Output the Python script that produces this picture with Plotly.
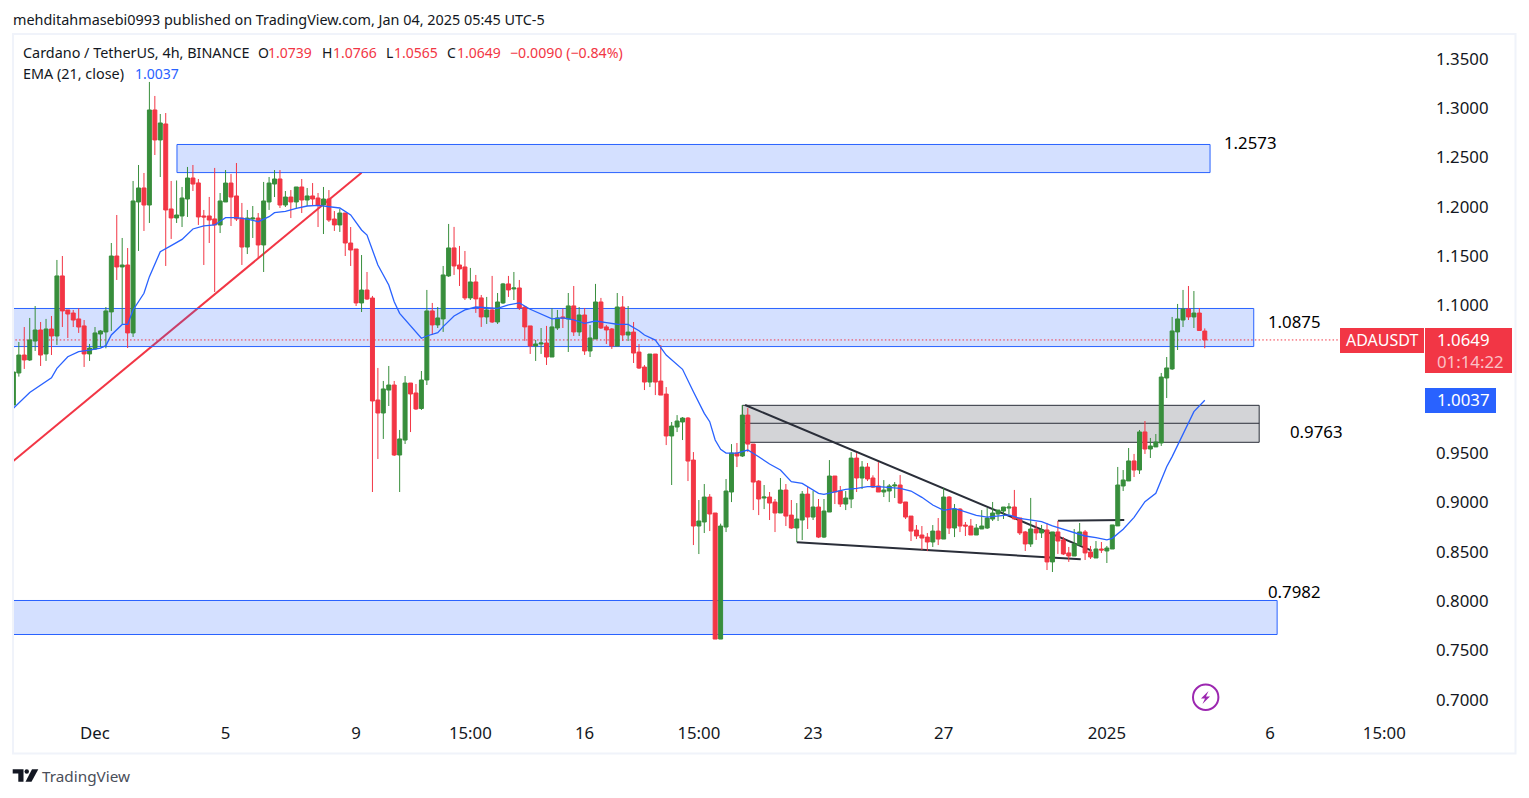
import plotly.graph_objects as go

W, H = 1529, 798
FONT = "Noto Sans"

opens = [0.9983,1.0308,1.0490,1.0440,1.0632,1.0744,1.0501,1.0754,1.0683,1.1292,
1.0947,1.0916,1.0856,1.0785,1.0501,1.0551,1.0703,1.0724,1.0927,1.1494,
1.1383,1.1403,1.0714,1.2042,1.2184,1.2011,1.2975,1.2671,1.2833,1.1971,
1.1880,1.1900,1.2072,1.2285,1.2235,1.1900,1.1900,1.1870,1.1809,1.2042,
1.2234,1.2103,1.1879,1.1585,1.1869,1.1879,1.1606,1.2042,1.2224,1.2275,
1.2011,1.2092,1.2042,1.2194,1.2062,1.2103,1.2082,1.2011,1.2072,1.1869,
1.1809,1.1930,1.1626,1.1565,1.1018,1.1149,1.1068,1.0034,0.9902,1.0135,
1.0186,0.9476,0.9628,1.0206,1.0105,0.9948,1.0237,1.0937,1.0795,1.0856,
1.1292,1.1576,1.1403,1.1383,1.1069,1.1231,1.1069,1.0876,1.0947,1.0825,
1.1018,1.1211,1.1160,1.1170,1.0977,1.0785,1.0582,1.0602,1.0612,1.0470,
1.0764,1.0876,1.0856,1.0988,1.0724,1.0896,1.0531,1.0653,1.1028,1.0775,
1.0754,1.0581,1.0977,1.0693,1.0723,1.0520,1.0368,1.0216,1.0500,1.0226,
1.0094,0.9669,0.9760,0.9811,0.9851,0.9425,0.8756,0.8797,0.9050,0.8888,
0.7610,0.8746,0.9101,0.9496,0.9466,0.9881,0.9587,0.9212,0.9040,0.9050,
0.8999,0.8888,0.9121,0.8867,0.8736,0.8817,0.9080,0.8847,0.8949,0.8644,
0.8898,0.9263,0.9111,0.8979,0.9030,0.9445,0.9243,0.9354,0.9243,0.9162,
0.9101,0.9111,0.9162,0.9172,0.9000,0.8857,0.8715,0.8665,0.8644,0.8594,
0.8705,0.8624,0.9050,0.8736,0.8928,0.8766,0.8756,0.8665,0.8726,0.8736,
0.8827,0.8878,0.8908,0.8938,0.8949,0.8838,0.8696,0.8574,0.8726,0.8686,
0.8716,0.8392,0.8696,0.8615,0.8483,0.8452,0.8564,0.8696,0.8493,0.8432,
0.8523,0.8503,0.8523,0.8757,0.9162,0.9213,0.9416,0.9324,0.9710,0.9537,
0.9558,0.9598,1.0257,1.0349,1.0724,1.0845,1.0957,1.0876,1.0916,1.0739]

highs = [1.0490,1.0622,1.0774,1.0866,1.0987,1.0825,1.0856,1.0886,1.1454,1.1494,
1.0947,1.0947,1.0964,1.0845,1.0602,1.0774,1.0744,1.0977,1.1626,1.1910,
1.1677,1.1575,1.2255,1.2417,1.2336,1.3259,1.3117,1.2934,1.2944,1.2255,
1.2260,1.2194,1.2397,1.2417,1.2275,1.1961,1.2093,1.2387,1.2133,1.2366,
1.2326,1.2437,1.2032,1.1961,1.2001,1.1930,1.2245,1.2295,1.2366,1.2366,
1.2153,1.2163,1.2194,1.2275,1.2184,1.2234,1.2133,1.2194,1.2163,1.1950,
1.1971,1.1930,1.1788,1.1565,1.1504,1.1332,1.1089,1.0359,1.0227,1.0379,
1.0227,0.9730,1.0277,1.0206,1.0196,1.0328,1.1150,1.1018,1.0977,1.1393,
1.1819,1.1789,1.1596,1.1545,1.1373,1.1302,1.1099,1.1079,1.1292,1.1119,
1.1221,1.1292,1.1332,1.1251,1.0988,1.0785,1.0643,1.0764,1.0785,1.0964,
1.0947,1.0961,1.1119,1.1190,1.0977,1.0967,1.0795,1.1211,1.1069,1.0795,
1.0764,1.1119,1.1088,1.0987,1.0825,1.0601,1.0388,1.0500,1.0500,1.0591,
1.0165,0.9811,0.9881,0.9861,0.9861,0.9506,0.9020,0.9182,0.9080,0.8888,
0.8780,0.9233,0.9587,0.9598,0.9983,0.9952,0.9587,0.9222,0.9172,0.9101,
0.9030,0.9243,0.9182,0.9020,0.8989,0.9111,0.9151,0.9111,0.9030,0.9030,
0.9425,0.9263,0.9162,0.9111,0.9506,0.9496,0.9415,0.9395,0.9270,0.9405,
0.9222,0.9182,0.9202,0.9273,0.9000,0.8857,0.8766,0.8756,0.8685,0.8766,
0.8837,0.9141,0.9060,0.8979,0.8938,0.8797,0.8827,0.8776,0.8918,0.8938,
0.9000,0.8918,0.8949,0.8989,0.9122,0.8838,0.8706,0.9041,0.8797,0.8767,
0.8787,0.8696,0.8807,0.8645,0.8544,0.8726,0.8787,0.8716,0.8554,0.8604,
0.8594,0.8554,0.8767,0.9355,0.9324,0.9547,0.9487,0.9730,0.9821,0.9649,
0.9689,1.0308,1.0470,1.0876,1.1008,1.1150,1.1190,1.1139,1.0967,1.0766]

lows = [0.9933,1.0271,1.0349,1.0430,1.0531,1.0379,1.0430,1.0490,1.0592,1.0774,
1.0663,1.0774,1.0714,1.0369,1.0430,1.0541,1.0568,1.0558,1.0734,1.1251,
1.0805,1.0561,1.0673,1.1545,1.1748,1.1829,1.2518,1.2295,1.1393,1.1667,
1.1829,1.1788,1.1890,1.2153,1.1809,1.1403,1.1626,1.1129,1.1727,1.2042,
1.1798,1.1849,1.1403,1.1514,1.1677,1.1474,1.1332,1.1961,1.2092,1.1981,
1.1991,1.1879,1.1981,1.1930,1.2001,1.2011,1.1788,1.1717,1.1839,1.1748,
1.1738,1.1494,1.1393,1.0987,1.0926,1.1048,0.9101,0.9436,0.9639,0.9973,
0.9466,0.9101,0.9588,0.9709,0.9933,0.9933,1.0186,1.0693,1.0764,1.0724,
1.1282,1.1302,1.1190,1.1048,1.1048,1.0917,1.0775,1.0805,1.0815,1.0805,
1.1008,1.1079,1.1048,1.0947,1.0633,1.0501,1.0430,1.0501,1.0389,1.0470,
1.0744,1.0764,1.0521,1.0683,1.0683,1.0491,1.0470,1.0653,1.0754,1.0602,
1.0552,1.0581,1.0632,1.0632,1.0409,1.0348,1.0135,1.0165,1.0084,1.0084,
0.9577,0.9172,0.9709,0.9628,0.9212,0.8563,0.8472,0.8685,0.8705,0.7610,
0.7610,0.8695,0.8999,0.9354,0.9456,0.9506,0.8918,0.8867,0.8928,0.8817,
0.8695,0.8888,0.8756,0.8726,0.8594,0.8614,0.8726,0.8817,0.8634,0.8634,
0.8898,0.8979,0.8949,0.8918,0.8938,0.9101,0.9131,0.9212,0.9141,0.9101,
0.9050,0.8999,0.9040,0.8979,0.8827,0.8604,0.8624,0.8513,0.8502,0.8543,
0.8563,0.8624,0.8675,0.8644,0.8695,0.8655,0.8665,0.8665,0.8726,0.8726,
0.8807,0.8807,0.8827,0.8878,0.8817,0.8665,0.8503,0.8544,0.8615,0.8635,
0.8310,0.8290,0.8473,0.8462,0.8392,0.8452,0.8564,0.8412,0.8422,0.8432,
0.8483,0.8381,0.8523,0.8757,0.9111,0.9213,0.9253,0.9284,0.9487,0.9446,
0.9558,0.9568,1.0054,1.0338,1.0541,1.0774,1.0845,1.0764,1.0739,1.0565]

closes = [1.0318,1.0490,1.0440,1.0643,1.0744,1.0490,1.0754,1.0683,1.1292,1.0937,
1.0906,1.0845,1.0774,1.0501,1.0561,1.0714,1.0734,1.0937,1.1494,1.1383,
1.1403,1.0714,1.2052,1.2184,1.2011,1.2975,1.2671,1.2843,1.1961,1.1880,
1.1910,1.2082,1.2285,1.2224,1.1890,1.1890,1.1859,1.1809,1.2052,1.2234,
1.2092,1.1869,1.1585,1.1879,1.1879,1.1606,1.2052,1.2234,1.2275,1.2011,
1.2092,1.2042,1.2194,1.2062,1.2103,1.2072,1.2011,1.2072,1.1859,1.1809,
1.1930,1.1626,1.1555,1.1018,1.1149,1.1058,1.0024,0.9902,1.0146,1.0186,
0.9476,0.9639,1.0206,1.0095,0.9943,1.0237,1.0937,1.0795,1.0866,1.1302,
1.1576,1.1393,1.1363,1.1069,1.1231,1.1059,1.0876,1.0947,1.0825,1.1028,
1.1211,1.1150,1.1170,1.0967,1.0775,1.0582,1.0602,1.0612,1.0470,1.0775,
1.0866,1.0866,1.0988,1.0724,1.0896,1.0531,1.0663,1.1028,1.0764,1.0744,
1.0582,1.0977,1.0693,1.0723,1.0510,1.0358,1.0216,1.0500,1.0216,1.0084,
0.9669,0.9770,0.9821,0.9851,0.9415,0.8756,0.8807,0.9050,0.8878,0.7610,
0.8756,0.9111,0.9496,0.9466,0.9881,0.9587,0.9202,0.9030,0.9050,0.8989,
0.8888,0.9121,0.8857,0.8736,0.8827,0.9080,0.8847,0.8949,0.8644,0.8908,
0.9263,0.9101,0.8979,0.9040,0.9445,0.9243,0.9354,0.9233,0.9151,0.9101,
0.9121,0.9162,0.9172,0.8989,0.8847,0.8705,0.8655,0.8634,0.8594,0.8705,
0.8624,0.9050,0.8736,0.8928,0.8756,0.8756,0.8665,0.8736,0.8756,0.8837,
0.8888,0.8918,0.8949,0.8949,0.8828,0.8686,0.8574,0.8726,0.8686,0.8716,
0.8392,0.8696,0.8604,0.8473,0.8452,0.8574,0.8696,0.8483,0.8442,0.8523,
0.8513,0.8533,0.8767,0.9172,0.9223,0.9416,0.9324,0.9710,0.9537,0.9568,
0.9608,1.0267,1.0359,1.0734,1.0856,1.0957,1.0876,1.0916,1.0739,1.0649]

ema_index = [0,3,7,8,10,12,14,16,17,18,20,21,22,24,25,27,29,31,33,35,37,39,41,43,45,47,48,50,52,54,
56,58,60,62,64,65,66,67,69,70,71,73,75,76,77,78,79,81,83,85,87,89,91,93,95,97,99,101,103,105,
107,109,111,113,115,116,118,120,122,123,125,127,128,129,130,131,133,135,137,139,141,143,145,147,148,149,151,153,155,157,
159,161,163,165,167,169,171,173,175,177,179,181,183,185,187,189,191,193,195,197,199,201,202,204,206,208,210,212,213,215,217,219]
ema_values = [0.995,1.011,1.026,1.0355,1.0473,1.0524,1.054,1.056,1.0585,1.0693,1.080,1.080,1.0947,1.1116,1.1285,1.1538,1.160,1.1663,1.1768,1.1799,1.1809,1.1883,1.1883,1.1869,1.1842,1.1893,1.1934,1.1947,1.1977,1.2001,
1.2008,1.1994,1.1981,1.191,1.1758,1.1707,1.1555,1.1403,1.120,1.1031,1.0913,1.0781,1.066,1.0683,1.0697,1.0717,1.0778,1.0886,1.0947,1.0977,1.097,1.0964,1.0998,1.1018,1.0954,1.0906,1.0856,1.0866,1.0846,1.0812,
1.0835,1.0819,1.0802,1.0801,1.0737,1.0693,1.0642,1.049,1.0399,1.0345,1.0118,0.9898,0.9814,0.9628,0.9533,0.9496,0.9496,0.9527,0.9459,0.9385,0.9324,0.9205,0.9189,0.912,0.9087,0.9077,0.9104,0.9128,0.9138,0.9155,
0.9155,0.9145,0.9138,0.9111,0.9047,0.8969,0.8915,0.8935,0.8898,0.8864,0.8847,0.8857,0.887,0.8834,0.8817,0.880,0.8757,0.8723,0.8682,0.8655,0.8638,0.8615,0.8631,0.8723,0.8844,0.9003,0.9088,0.9358,0.946,0.9696,0.9916,1.0037]

tick_index = [15,39,63,84,105,126,147,171,201,231,252]
tick_labels = ["Dec","5","9","15:00","16","15:00","23","27","2025","6","15:00"]
# 1.0500 and 1.0000 sit behind the price labels in the reference and do not show
price_ticks = [1.35,1.30,1.25,1.20,1.15,1.10,0.95,0.90,0.85,0.80,0.75,0.70]

# zones: [start index, end index, low, high]
blue_zones = [[30.07,219.97,1.2346,1.2631],[-1,228.0,1.0582,1.0968],[-1,232.3,0.7662,0.8007]]
gray_zone = [134.0,229.0,0.9611,0.9986]
gray_mid = 0.9804
zone_labels = ["1.2573","1.0875","0.9763","0.7982"]
# trend lines: [i0, p0, i1, p1]
red_trend = [-0.07,0.9418,64.0,1.2345]
black_trends = [[134.5,0.9989,198.2,0.8512],[144.0,0.8597,196.2,0.8425],[192.0,0.8816,204.2,0.8823]]
last_price = 1.0649
last_ema = 1.0037
countdown = "01:14:22"

# values above were read against the tick labels, which sit a little off their true level
READ_OFFSET = 0.0006
body_opens = [v + READ_OFFSET for v in opens[:-1]] + opens[-1:]
body_highs = [v + READ_OFFSET for v in highs[:-1]] + highs[-1:]
body_lows = [v + READ_OFFSET for v in lows[:-1]] + lows[-1:]
body_closes = [v + READ_OFFSET for v in closes[:-1]] + closes[-1:]
ema_line = [v + READ_OFFSET for v in ema_values[:-1]] + ema_values[-1:]

def xp(x): return x / W
def yp(y): return 1 - y / H

RED, GREEN, BLUE = "#f23645", "#388e3c", "#2962ff"
DARK = "#131722"

fig = go.Figure()
fig.add_trace(go.Candlestick(
    x=list(range(len(opens))), open=body_opens, high=body_highs, low=body_lows, close=body_closes,
    increasing=dict(line=dict(color=GREEN, width=1), fillcolor=GREEN),
    decreasing=dict(line=dict(color=RED, width=1), fillcolor=RED),
    hoverinfo="skip", showlegend=False))
fig.add_trace(go.Scatter(x=ema_index, y=ema_line, mode="lines",
    line=dict(color=BLUE, width=1.3), hoverinfo="skip", showlegend=False))

shapes = []
shapes.append(dict(type="line", x0=red_trend[0], y0=red_trend[1], x1=red_trend[2], y1=red_trend[3],
                   xref="x", yref="y", layer="below", line=dict(color=RED, width=2)))
for x0, x1, lo, hi in blue_zones:
    shapes.append(dict(type="rect", x0=x0, x1=x1, y0=lo, y1=hi, xref="x", yref="y", layer="below",
                       fillcolor="rgba(41,98,255,0.2)", line=dict(color=BLUE, width=1)))
shapes.append(dict(type="rect", x0=gray_zone[0], x1=gray_zone[1], y0=gray_zone[2], y1=gray_zone[3],
                   xref="x", yref="y", layer="below", fillcolor="rgba(120,123,134,0.33)",
                   line=dict(color="#2a2e39", width=1)))
shapes.append(dict(type="line", x0=gray_zone[0], x1=gray_zone[1], y0=gray_mid, y1=gray_mid,
                   xref="x", yref="y", layer="below", line=dict(color="#2a2e39", width=1)))
for x0, y0, x1, y1 in black_trends:
    shapes.append(dict(type="line", x0=x0, y0=y0, x1=x1, y1=y1, xref="x", yref="y", layer="below",
                       line=dict(color="#2a2e39", width=2)))
shapes.append(dict(type="line", x0=-1, x1=243.9, y0=last_price, y1=last_price, xref="x", yref="y",
                   layer="below", line=dict(color=RED, width=1, dash="1.5px,2.2px")))

def prect(x0, y0, x1, y1, color, line=None, width=0):
    shapes.append(dict(type="rect", xref="paper", yref="paper", x0=xp(x0), x1=xp(x1), y0=yp(y1), y1=yp(y0),
                       fillcolor=color, line=dict(color=line or color, width=width), layer="above"))

def ppath(points, color):
    d = "M" + " L".join(f"{xp(x):.5f},{yp(y):.5f}" for x, y in points) + " Z"
    shapes.append(dict(type="path", xref="paper", yref="paper", path=d, fillcolor=color,
                       line=dict(width=0), layer="above"))

shapes.append(dict(type="rect", xref="paper", yref="paper", x0=xp(13), x1=xp(1515.5), y0=yp(753.5), y1=yp(34),
                   line=dict(color="#f0f3fa", width=2), layer="above"))
prect(1340, 328, 1424, 353, RED)
prect(1425, 328, 1512, 373, RED)
prect(1425, 388, 1496, 413, BLUE)
shapes.append(dict(type="circle", xref="paper", yref="paper", x0=xp(1193), x1=xp(1218.4), y0=yp(710), y1=yp(684.6),
                   line=dict(color="#9c27b0", width=2), fillcolor="rgba(0,0,0,0)", layer="above"))
ppath([(1208.5,691),(1201,698.5),(1205,698.5),(1202.5,704),(1210,696.5),(1206,696.5)], "#9c27b0")
ppath([(12.7,769.3),(23.5,769.3),(23.5,781.7),(18.3,781.7),(18.3,773.5),(12.7,773.5)], DARK)
shapes.append(dict(type="circle", xref="paper", yref="paper", x0=xp(24.5), x1=xp(29), y0=yp(773.8), y1=yp(769.3),
                   fillcolor=DARK, line=dict(width=0), layer="above"))
ppath([(32,769.3),(38.3,769.3),(31.5,781.7),(25.5,781.7)], DARK)

notes = []
def note(x, y, text, color=DARK, size=14):
    notes.append(dict(xref="paper", yref="paper", x=xp(x - 2), y=yp(y - 1), text=text, showarrow=False,
                      xanchor="left", yanchor="middle", align="left",
                      font=dict(family=FONT, size=size, color=color)))

note(13, 20, "mehditahmasebi0993 published on TradingView.com, Jan 04, 2025 05:45 UTC-5", size=14.4)
note(23, 54, "Cardano / TetherUS, 4h, BINANCE", size=14.4)
note(257.5, 54, "O")
note(268, 54, "1.0739", RED)
note(322, 54, "H")
note(332.5, 54, "1.0766", RED)
note(386, 54, "L")
note(394, 54, "1.0565", RED)
note(447, 54, "C")
note(457, 54, "1.0649", RED)
note(510, 54, "−0.0090 (−0.84%)", RED, 14.2)
note(23, 75, "EMA (21, close)", size=14.4)
note(135, 75, "1.0037", BLUE)
note(1224, 143, zone_labels[0], "#000000", 16.8)
note(1268, 323, zone_labels[1], "#000000", 16.8)
note(1290, 432, zone_labels[2], "#000000", 16.8)
note(1268, 592, zone_labels[3], "#000000", 16.8)
note(1346, 340.5, "ADAUSDT", "#ffffff", 16)
note(1437, 351, f"{last_price:.4f}<br><span style='color:rgba(255,255,255,0.7)'>{countdown}</span>", "#ffffff", 16.8)
note(1437, 400.5, f"{last_ema:.4f}", "#ffffff", 16.8)
note(42, 777, "TradingView", "#4a4e59", 15.3)

fig.update_layout(
    width=W, height=H, margin=dict(l=0, r=0, t=0, b=0), autosize=False,
    paper_bgcolor="#ffffff", plot_bgcolor="#ffffff", showlegend=False, boxgap=0, boxgroupgap=0.27,
    font=dict(family=FONT, size=16.8, color=DARK),
    xaxis=dict(domain=[xp(13), xp(1435)], range=[-0.0735, 261.32], rangeslider=dict(visible=False),
               tickmode="array", tickvals=tick_index, ticktext=tick_labels, showgrid=False, zeroline=False,
               showline=False, ticks="", anchor="y"),
    yaxis=dict(domain=[yp(721), yp(35)], range=[0.6785, 1.37411], side="right", tickmode="array",
               tickvals=price_ticks, ticktext=[f"{v:.4f}" for v in price_ticks], showgrid=False,
               zeroline=False, showline=False, ticks="", anchor="x"),
    shapes=shapes, annotations=notes)

fig.write_html("out.html", config=dict(displayModeBar=False),
               post_script="document.body.style.margin='0';document.body.style.overflow='hidden';")
